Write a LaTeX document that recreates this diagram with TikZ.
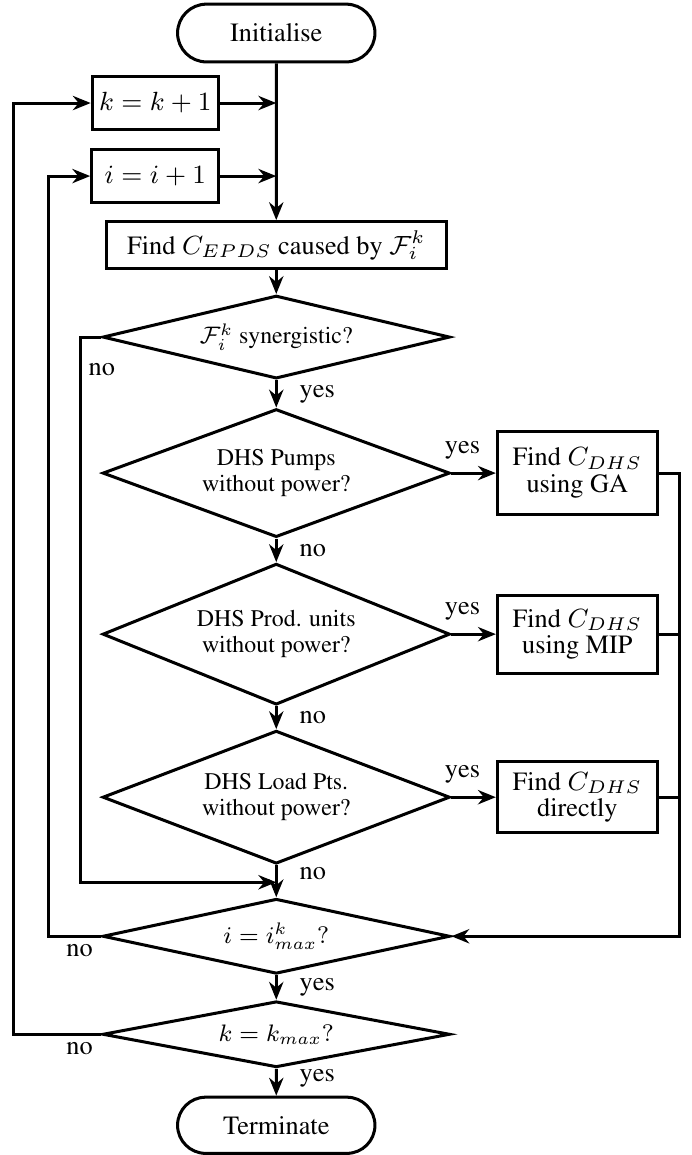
\RequirePackage{fix-cm}
\documentclass[tikz,border=0pt]{standalone}
\usepackage[T1]{fontenc}
\usepackage{times}
\usepackage{amsmath, amssymb}
\usetikzlibrary{calc}
\usetikzlibrary{positioning}
\usetikzlibrary{arrows.meta, shapes}

\begin{document}
\begin{tikzpicture}[scale=1, font=\fontsize{9.6}{9.7}\selectfont]
 \tikzstyle{block}=[rectangle, draw, line width=1.1pt, align=center, inner sep=2pt]
 \tikzstyle{term}=[rounded rectangle, draw, line width=1.1pt, minimum width=2.67cm, inner sep=2pt]
 \tikzstyle{decision}=[diamond, draw, line width=1.1pt, align=center, inner sep=0pt, minimum width=4.45cm, font=\fontsize{8.7}{9.35}\selectfont]
 \tikzstyle{line} = [draw, line width=1.1pt, -{Stealth[length=6.5pt, width=5.2pt]}]
 \tikzstyle{link} = [draw, line width=1.1pt]
 \tikzstyle{lbl} = [inner sep=2.5pt]

 \useasboundingbox (-3.54, 0) rectangle (5.32, -14.80);

 \coordinate (kloop) at (-3.37, 0);
 \coordinate (iloop) at (-2.92, 0);
 \coordinate (noloop) at (-2.51, 0);
 \coordinate (bus) at (5.165, 0);
 \coordinate (merge) at (0, -11.305);

 \begin{scope}
  \draw (0, -0.423) node[term, minimum height=0.74cm] (init) {Initialise};
  \draw (-1.551, -1.320) node[block, minimum width=1.615cm, minimum height=0.68cm] (kbox) {$k = k + 1$};
  \draw (-1.551, -2.256) node[block, minimum width=1.628cm, minimum height=0.67cm] (ibox) {$i = i + 1$};
  \draw (0, -3.140) node[block, minimum width=4.36cm, minimum height=0.60cm] (epds) {Find $C_{EPDS}$ caused by $\mathcal{F}_i^k$};
  \path [line] (init) -- (epds);
  \path [line] (kbox) -- (kbox -| init);
  \path [line] (ibox) -- (ibox -| init);
 \end{scope}

 \begin{scope}
  \draw (0, -4.319) node[decision, aspect=4.18, minimum height=1.064cm] (d1) {$\mathcal{F}_i^k$ synergistic?};
  \draw (0, -6.062) node[decision, aspect=2.71, minimum height=1.641cm] (d2) {DHS Pumps\\without power?};
  \draw (0, -8.126) node[decision, aspect=2.45, minimum height=1.807cm] (d3) {DHS Prod. units\\without power?};
  \draw (0, -10.215) node[decision, aspect=2.59, minimum height=1.705cm] (d4) {DHS Load Pts.\\without power?};
  \path [line] (epds) -- (d1);
  \path [line] (d1) -- node[lbl, right=5.5pt]{yes} (d2);
  \path [line] (d2) -- node[lbl, right=5.5pt]{no} (d3);
  \path [line] (d3) -- node[lbl, right=5.5pt]{no} (d4);
  \path [line] (d1.west) -- (d1.west -| noloop) |- node[lbl, right, pos=0.03]{no} (merge);
 \end{scope}

 \begin{scope}
  \draw (3.858, -6.062) node[block, minimum width=2.05cm, minimum height=1.064cm] (ga) {Find $C_{DHS}$\\using GA};
  \draw (3.858, -8.126) node[block, minimum width=2.05cm, minimum height=1.0cm] (mip) {Find $C_{DHS}$\\using MIP};
  \draw (3.858, -10.215) node[block, minimum width=2.05cm, minimum height=0.91cm] (dir) {Find $C_{DHS}$\\directly};
  \path [line] (d2) -- node[lbl, above=2pt, pos=0.25]{yes} (ga);
  \path [line] (d3) -- node[lbl, above=2pt, pos=0.25]{yes} (mip);
  \path [line] (d4) -- node[lbl, above=2pt, pos=0.25]{yes} (dir);
  \path [link] (mip.east) -- (mip.east -| bus);
  \path [link] (dir.east) -- (dir.east -| bus);
 \end{scope}

 \begin{scope}
  \draw (0, -11.997) node[decision, aspect=4.65, minimum height=0.961cm] (d5) {$i = i_{max}^k?$};
  \draw (0, -13.253) node[decision, aspect=5.28, minimum height=0.846cm] (d6) {$k = k_{max}?$};
  \draw (0, -14.419) node[term, minimum height=0.72cm] (term) {Terminate};
  \path [line] (d4) -- node[lbl, right=5.5pt, pos=0.25]{no} (d5);
  \path [line] (ga.east) -- (ga.east -| bus) -- (d5.east -| bus) -- (d5.east);
  \path [line] (d5) -- node[lbl, right=5.5pt]{yes} (d6);
  \path [line] (d6) -- node[lbl, right=5.5pt, pos=0.35]{yes} (term);
  \path [line] (d5.west) node[lbl, below left]{no} -- (d5.west -| iloop) |- (ibox.west);
  \path [line] (d6.west) node[lbl, below left]{no} -- (d6.west -| kloop) |- (kbox.west);
 \end{scope}
\end{tikzpicture}
\end{document}
